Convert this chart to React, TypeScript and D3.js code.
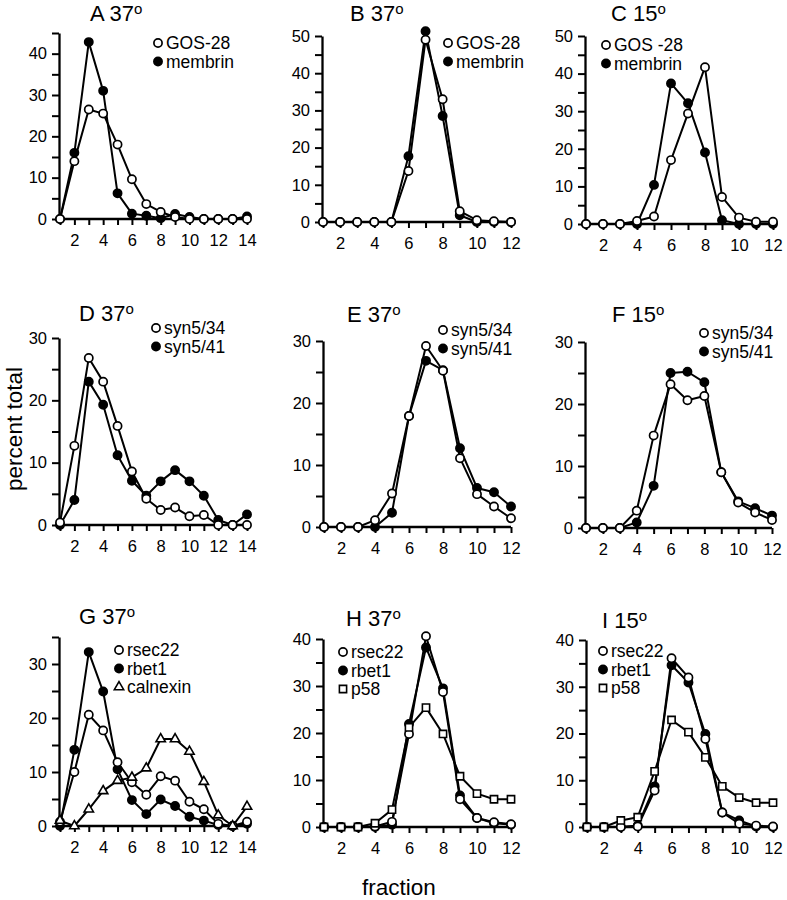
import React, { useEffect, useRef } from "react";
import * as d3 from "d3";

// fraction numbers
const frac14 = [1, 2, 3, 4, 5, 6, 7, 8, 9, 10, 11, 12, 13, 14];
const frac12 = [1, 2, 3, 4, 5, 6, 7, 8, 9, 10, 11, 12];

// A 37
const aGos28 = [0, 14, 26.5, 25.5, 18, 9.6, 3.6, 1.7, 0.5, 0, 0, 0, 0, 0];
const aMembrin = [0, 16, 42.8, 31, 6.2, 1.3, 0.8, 0.2, 1.2, 0.5, 0, 0, 0, 0.6];
// B 37
const bGos28 = [0, 0, 0, 0, 0, 13.7, 49, 33, 2.9, 0.5, 0.2, 0];
const bMembrin = [0, 0, 0, 0, 0, 17.7, 51.3, 28.5, 1.8, 0, 0, 0];
// C 15
const cGos28 = [0, 0, 0, 0.8, 2, 17, 29.4, 41.7, 7.2, 1.7, 0.6, 0.6];
const cMembrin = [0, 0, 0, 0, 10.4, 37.4, 32.1, 19, 1, 0, 0, 0];
// D 37
const dSyn34 = [0.4, 12.7, 26.8, 23, 15.9, 8.6, 4.2, 2.4, 2.8, 1.4, 1.6, 0, 0, 0];
const dSyn41 = [0, 4, 23, 19.3, 11.2, 7.1, 4.7, 7, 8.8, 7, 4.7, 0.8, 0, 1.7];
// E 37
const eSyn34 = [0, 0, 0, 1.1, 5.4, 17.9, 29.2, 25.2, 11.1, 5.3, 3.3, 1.4];
const eSyn41 = [0, 0, 0, 0, 2.3, 17.9, 26.8, 25.3, 12.7, 6.3, 5.6, 3.3];
// F 15
const fSyn34 = [0, 0, 0, 2.8, 14.9, 23.2, 20.6, 21.3, 9, 4.1, 2.5, 1.3];
const fSyn41 = [0, 0, 0, 0.9, 6.8, 25, 25.2, 23.5, 9, 4.3, 3.2, 2];
// G 37
const gRsec22 = [0.8, 10, 20.6, 17.7, 11.8, 8.1, 5.8, 9.2, 8.4, 4.5, 3.1, 0.4, 0, 0.8];
const gRbet1 = [0, 14.1, 32.2, 24.9, 10.5, 4.8, 2.2, 4.9, 3.7, 1.7, 1, 0.2, 0, 0.4];
const gCalnexin = [1, 0, 3.1, 6.5, 8.4, 9, 10.7, 16.1, 16.1, 13.8, 8.2, 2, 0, 3.6];
// H 37
const hRsec22 = [0, 0, 0, 0.1, 1.1, 19.8, 40.6, 28.7, 5.9, 1.9, 1, 0.6];
const hRbet1 = [0, 0, 0, 0, 0.5, 21.9, 38.2, 29.5, 6.7, 1.9, 0.8, 0.5];
const hP58 = [0, 0, 0, 0.8, 3.7, 21.2, 25.4, 19.8, 10.8, 7.1, 5.9, 5.9];
// I 15
const iRsec22 = [0, 0, 0, 0.1, 7.8, 36.1, 32, 18.8, 3.1, 0.7, 0.3, 0.1];
const iRbet1 = [0, 0, 0, 0.3, 8.7, 34.6, 30.9, 19.9, 3.1, 1.4, 0.1, 0];
const iP58 = [0, 0, 1.4, 2.1, 11.9, 22.9, 20.3, 14.9, 8.7, 6.3, 5.2, 5.2];

const FONT = "'Liberation Sans', Arial, Helvetica, sans-serif";

type Shape = "filled" | "open" | "triangle" | "square";
interface Series { label: string; shape: Shape; values: number[] }
interface Panel {
  title: string;
  fr: number[];
  yMax: number;
  xr: [number, number];
  yr: [number, number];
  series: Series[]; // legend order
  title_at: [number, number];
  legend_at: [number, number];
}

const panels: Panel[] = [
  { title: "A 37", fr: frac14, yMax: 45, xr: [60, 247], yr: [219, 33], title_at: [90, 21], legend_at: [158, 43],
    series: [{ label: "GOS-28", shape: "open", values: aGos28 }, { label: "membrin", shape: "filled", values: aMembrin }] },
  { title: "B 37", fr: frac12, yMax: 50, xr: [323, 511], yr: [222, 36], title_at: [350, 21], legend_at: [448, 43],
    series: [{ label: "GOS-28", shape: "open", values: bGos28 }, { label: "membrin", shape: "filled", values: bMembrin }] },
  { title: "C 15", fr: frac12, yMax: 50, xr: [586, 773], yr: [224, 36], title_at: [611, 21], legend_at: [606, 45],
    series: [{ label: "GOS -28", shape: "open", values: cGos28 }, { label: "membrin", shape: "filled", values: cMembrin }] },
  { title: "D 37", fr: frac14, yMax: 30, xr: [60, 247], yr: [525, 338], title_at: [79, 321], legend_at: [156, 328],
    series: [{ label: "syn5/34", shape: "open", values: dSyn34 }, { label: "syn5/41", shape: "filled", values: dSyn41 }] },
  { title: "E 37", fr: frac12, yMax: 30, xr: [324, 511], yr: [527, 341], title_at: [347, 322], legend_at: [443, 330],
    series: [{ label: "syn5/34", shape: "open", values: eSyn34 }, { label: "syn5/41", shape: "filled", values: eSyn41 }] },
  { title: "F 15", fr: frac12, yMax: 30, xr: [586, 772], yr: [528, 342], title_at: [612, 322], legend_at: [704, 333],
    series: [{ label: "syn5/34", shape: "open", values: fSyn34 }, { label: "syn5/41", shape: "filled", values: fSyn41 }] },
  { title: "G 37", fr: frac14, yMax: 35, xr: [60, 247], yr: [826, 637], title_at: [79, 624], legend_at: [119, 650],
    series: [{ label: "rsec22", shape: "open", values: gRsec22 }, { label: "rbet1", shape: "filled", values: gRbet1 },
      { label: "calnexin", shape: "triangle", values: gCalnexin }] },
  { title: "H 37", fr: frac12, yMax: 40, xr: [324, 511], yr: [827, 639], title_at: [346, 626], legend_at: [343, 652],
    series: [{ label: "rsec22", shape: "open", values: hRsec22 }, { label: "rbet1", shape: "filled", values: hRbet1 },
      { label: "p58", shape: "square", values: hP58 }] },
  { title: "I 15", fr: frac12, yMax: 40, xr: [587, 773], yr: [827, 640], title_at: [602, 628], legend_at: [603, 651],
    series: [{ label: "rsec22", shape: "open", values: iRsec22 }, { label: "rbet1", shape: "filled", values: iRbet1 },
      { label: "p58", shape: "square", values: iP58 }] },
];

const drawOrder: Shape[] = ["filled", "open", "triangle", "square"];

function addMarker(g: any, shape: Shape, cx: number, cy: number) {
  if (shape === "filled" || shape === "open") {
    g.append("circle").attr("cx", cx).attr("cy", cy).attr("r", 4.1)
      .attr("fill", shape === "filled" ? "#000" : "#fff")
      .attr("stroke", "#000").attr("stroke-width", 1.7);
  } else {
    const sym = d3.symbol().type(shape === "triangle" ? d3.symbolTriangle : d3.symbolSquare)
      .size(shape === "triangle" ? 38 : 52);
    g.append("path").attr("d", sym()).attr("transform", `translate(${cx},${cy})`)
      .attr("fill", "#fff").attr("stroke", "#000").attr("stroke-width", 1.6);
  }
}

function drawPanel(svg: any, p: Panel) {
  const x = d3.scaleLinear().domain([1, p.fr[p.fr.length - 1]]).range(p.xr);
  const y = d3.scaleLinear().domain([0, p.yMax]).range(p.yr);
  const axisX = p.xr[0] - 1;
  const g = svg.append("g");

  // y axis
  const yTicks = d3.range(0, p.yMax + 1, 5);
  const ya = g.append("g").attr("transform", `translate(${axisX},0)`)
    .call(d3.axisLeft(y).tickValues(yTicks).tickSize(7).tickSizeOuter(0).tickPadding(5)
      .tickFormat((d: any) => (d % 10 === 0 ? String(d) : "")));
  // x axis
  const xa = g.append("g").attr("transform", `translate(0,${p.yr[0]})`)
    .call(d3.axisBottom(x).tickValues(p.fr).tickSize(6).tickSizeOuter(0).tickPadding(9)
      .tickFormat((d: any) => (d % 2 === 0 ? String(d) : "")));
  xa.select(".domain").remove();
  g.append("line").attr("x1", axisX).attr("x2", p.xr[1]).attr("y1", p.yr[0]).attr("y2", p.yr[0])
    .attr("stroke", "#000").attr("stroke-width", 2.3);
  [ya, xa].forEach((a) => {
    a.select(".domain").attr("stroke-width", 2.3);
    a.selectAll(".tick line").attr("stroke-width", 2);
    a.selectAll("text").attr("font-family", FONT).attr("font-size", 16.5).attr("fill", "#000");
  });

  // lines
  const line = d3.line<number>().x((_, i) => x(p.fr[i])).y((v) => y(v));
  p.series.forEach((s) => {
    g.append("path").attr("d", line(s.values)).attr("fill", "none")
      .attr("stroke", "#000").attr("stroke-width", 2).attr("stroke-linejoin", "round");
  });
  // markers
  drawOrder.forEach((shape) => {
    p.series.filter((s) => s.shape === shape).forEach((s) => {
      s.values.forEach((v, i) => addMarker(g, shape, x(p.fr[i]), y(v)));
    });
  });

  // title
  const t = g.append("text").attr("x", p.title_at[0]).attr("y", p.title_at[1])
    .attr("font-family", FONT).attr("font-size", 22).attr("fill", "#000").text(p.title);
  t.append("tspan").attr("font-size", 15).attr("dy", -7).text("o");

  // legend
  p.series.forEach((s, i) => {
    const ly = p.legend_at[1] + i * 18.5;
    addMarker(g, s.shape, p.legend_at[0], ly);
    g.append("text").attr("x", p.legend_at[0] + 8).attr("y", ly).attr("dy", "0.36em")
      .attr("font-family", FONT).attr("font-size", 17.5).attr("fill", "#000").text(s.label);
  });
}

export default function App() {
  const ref = useRef<SVGSVGElement>(null);

  useEffect(() => {
    const svg = d3.select(ref.current);
    svg.selectAll("*").remove();
    panels.forEach((p) => drawPanel(svg, p));

    svg.append("text").attr("transform", "translate(22,429) rotate(-90)")
      .attr("text-anchor", "middle").attr("font-family", FONT).attr("font-size", 22.5)
      .text("percent total");
    svg.append("text").attr("x", 399).attr("y", 895)
      .attr("text-anchor", "middle").attr("font-family", FONT).attr("font-size", 22.5)
      .text("fraction");
  }, []);

  return (
    <svg ref={ref} width={787} height={900}
      style={{ position: "absolute", left: 0, top: 0, background: "#fff" }} />
  );
}
